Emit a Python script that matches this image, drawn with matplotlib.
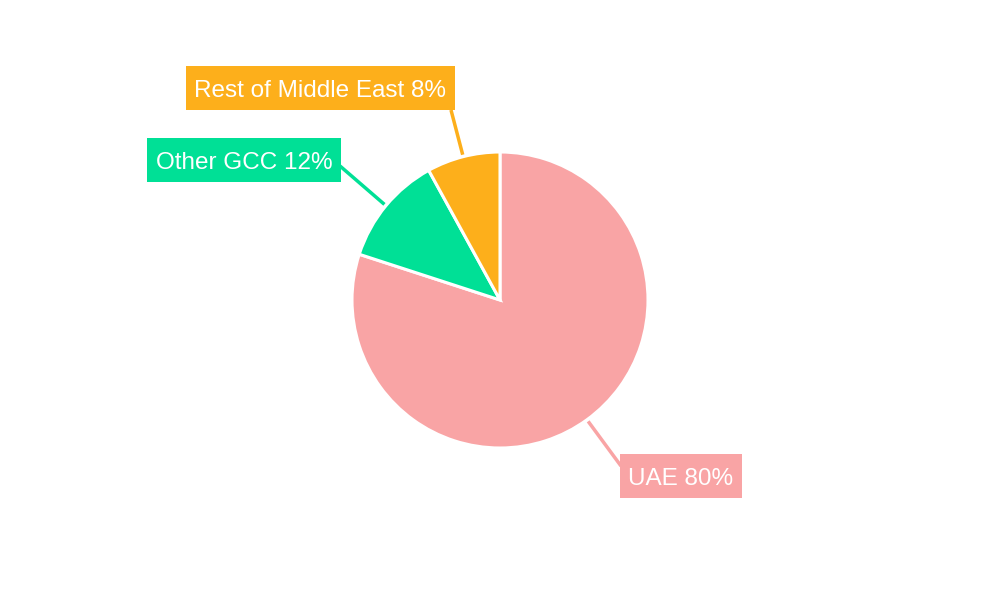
import numpy as np
import matplotlib.pyplot as plt
from matplotlib.patches import Rectangle

plt.rcParams['font.family'] = ['Liberation Sans', 'DejaVu Sans']

regions = ["UAE", "Other GCC", "Rest of Middle East"]
shares = [80, 12, 8]
colors = ["#F9A4A5", "#00E096", "#FDAF1B"]

# label box centres and the point where the leader line meets the box (pixels, y down)
label_centres = [(681, 476), (244, 160), (320, 88)]
line_ends = [(621, 466), (340, 166), (451, 110)]
box_h = 44
pad_x = 8.5
fs = 17.5

fig = plt.figure(figsize=(10, 6), dpi=100)
ax = fig.add_axes([0, 0, 1, 1])

cx, cy, r = 500, 300, 148
wedges, _ = ax.pie(shares, colors=colors, startangle=90, counterclock=False,
                   center=(cx, cy), radius=r, frame=True,
                   wedgeprops=dict(edgecolor='white', linewidth=2.2))
ax.set_xlim(0, 1000)
ax.set_ylim(0, 600)
ax.set_aspect('equal')
ax.axis('off')

renderer = fig.canvas.get_renderer()
cap = 0.716 * fs * 100 / 72

for w, name, pct, col, (tx, ty), (ex, ey) in zip(wedges, regions, shares, colors,
                                                 label_centres, line_ends):
    mid = np.deg2rad((w.theta1 + w.theta2) / 2)
    sx = cx + (r + 2) * np.cos(mid)
    sy = cy + (r + 2) * np.sin(mid)
    ax.plot([sx, ex], [sy, 600 - ey], color=col, lw=2.5, solid_capstyle='butt', zorder=1)
    t = ax.text(tx, 600 - ty - cap / 2, f"{name} {pct}%", ha='center', va='baseline',
                fontsize=fs, color='white', zorder=4)
    tw = t.get_window_extent(renderer).width
    bw = tw + 2 * pad_x
    ax.add_patch(Rectangle((tx - bw / 2, 600 - ty - box_h / 2), bw, box_h,
                           fc=col, ec='none', zorder=3))

fig.savefig('out.png')
